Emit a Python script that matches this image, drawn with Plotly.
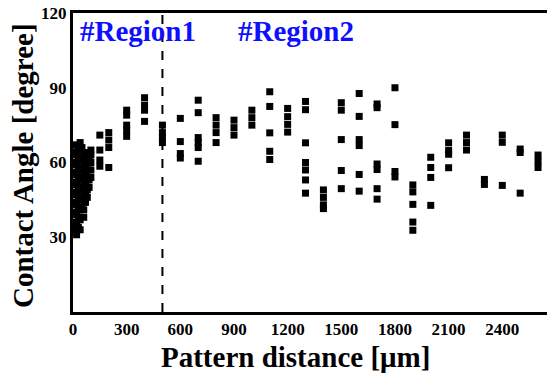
import plotly.graph_objects as go

# Pattern distance (µm) of each measured column and contact angles (degree) measured there
pattern_distance = [10, 20, 30, 40, 50, 60, 70, 80, 90, 100, 150, 200, 300, 400, 500,
                    600, 700, 800, 900, 1000, 1100, 1200, 1300, 1400, 1500, 1600, 1700,
                    1800, 1900, 2000, 2100, 2200, 2300, 2400, 2500, 2600]
contact_angle = [
    [33, 36, 40, 44, 48, 52, 56, 60, 64, 67],
    [31, 35, 39, 43, 47, 51, 55, 59, 63, 67],
    [34, 38, 42, 46, 50, 54, 58, 62, 66],
    [33, 37, 41, 45, 49, 53, 57, 61, 65, 68],
    [42, 46, 50, 54, 58, 62, 66],
    [38, 41, 44, 48, 52, 56, 60, 64],
    [44, 47, 51, 55, 59, 63],
    [46, 49, 53, 57, 61, 64],
    [50, 53, 57, 61, 64],
    [54, 57, 60, 63, 65],
    [71, 65, 61, 58.5],
    [72, 69, 66, 58],
    [81, 79, 75, 73, 70.5],
    [86, 83, 81, 76.5],
    [75, 72, 70, 68],
    [77.7, 68.4, 63.6, 61.8],
    [85, 80, 70, 68, 66, 60.5],
    [78, 75, 72, 68],
    [77, 74, 71],
    [81, 78, 75],
    [88.4, 82.5, 71.9, 64.5, 61.2],
    [81.7, 78.4, 75.3, 72.2],
    [84.5, 81.2, 67.9, 60, 57, 53, 47.7],
    [49, 46, 43, 41.5],
    [84, 81, 69.2, 56.8, 49.5],
    [87.7, 78.5, 69.2, 66.8, 55.2, 48.5],
    [83.5, 82, 59.4, 57.2, 49.5, 45.3],
    [90, 75.2, 56.4, 54.2],
    [51, 48.2, 43.2, 36.1, 32.8],
    [62.1, 58, 54, 42.8],
    [67.9, 64.8, 63.3, 57.9],
    [71, 68, 65],
    [53.2, 51.2],
    [71, 68.1, 50.8],
    [65.4, 64, 47.7],
    [63, 60.5, 58],
]
region_boundary = 500
x_ticks = [0, 300, 600, 900, 1200, 1500, 1800, 2100, 2400]
y_ticks = [30, 60, 90, 120]

xs, ys = [], []
for d, angles in zip(pattern_distance, contact_angle):
    for a in angles:
        xs.append(d)
        ys.append(a)

FONT = "Liberation Serif"

fig = go.Figure()
fig.add_trace(go.Scatter(
    x=xs, y=ys, mode="markers",
    marker=dict(symbol="square", size=7, color="black", line=dict(width=0)),
    showlegend=False,
))

fig.add_shape(type="line", xref="x", yref="y",
              x0=region_boundary, x1=region_boundary, y0=0, y1=120,
              line=dict(color="black", width=2, dash="dash"))

fig.update_layout(
    width=549, height=373,
    margin=dict(l=73, r=2, t=13, b=61),
    paper_bgcolor="white", plot_bgcolor="white",
    font=dict(family=FONT, color="black"),
    xaxis=dict(range=[0, 2650], tickvals=x_ticks, ticktext=[str(v) for v in x_ticks],
               showline=True, linecolor="black", linewidth=3, mirror=True,
               showgrid=False, zeroline=False, ticks="",
               tickfont=dict(family=FONT, size=17, color="black", weight="bold")),
    yaxis=dict(range=[0, 120], tickvals=y_ticks, ticktext=[str(v) for v in y_ticks],
               showline=True, linecolor="black", linewidth=3,
               showgrid=False, zeroline=False, ticks="",
               tickfont=dict(family=FONT, size=17, color="black", weight="bold")),
    annotations=[
        dict(text="<b>#Region1</b>", xref="paper", yref="paper", x=0.01, y=0.94,
             xanchor="left", yanchor="middle", showarrow=False,
             font=dict(family=FONT, size=29, color="#0f0fff")),
        dict(text="<b>#Region2</b>", xref="paper", yref="paper", x=0.344, y=0.94,
             xanchor="left", yanchor="middle", showarrow=False,
             font=dict(family=FONT, size=29, color="#0f0fff")),
        dict(text="<b>Pattern distance [μm]</b>", xref="paper", yref="paper",
             x=(295 - 73) / 474, y=-(357 - 312) / 299, xanchor="center", yanchor="middle",
             showarrow=False, font=dict(family=FONT, size=29, color="black")),
        dict(text="<b>Contact Angle [degree]</b>", xref="paper", yref="paper",
             x=-(73 - 23) / 474, y=(312 - 166) / 299, xanchor="center", yanchor="middle",
             textangle=-90, showarrow=False,
             font=dict(family=FONT, size=29, color="black")),
    ],
)

fig.write_html("out.html", config={"displayModeBar": False},
               post_script="document.body.style.margin='0px';")
